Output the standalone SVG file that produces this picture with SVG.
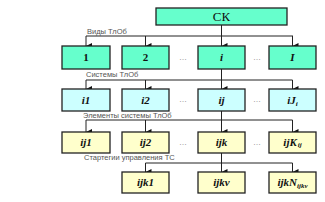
<svg xmlns="http://www.w3.org/2000/svg" width="325" height="202" viewBox="0 0 325 202">
<defs>
<marker id="ah" viewBox="0 0 6 6" refX="3" refY="6" markerWidth="6" markerHeight="6" markerUnits="userSpaceOnUse" orient="auto-start-reverse">
<path d="M0,0 L6,0 L3,6 Z" fill="#111"/>
</marker>
<style>
.b{stroke:#222;stroke-width:1.3}
.g{fill:#66ffcc}
.c{fill:#ccffff}
.y{fill:#ffffcc}
.t{font-family:"Liberation Serif",serif;font-size:11px;font-weight:bold;font-style:italic;fill:#111;text-anchor:middle}
.n{font-style:normal}
.s{font-size:7px}
.lab{font-family:"Liberation Sans",Arial,sans-serif;font-size:7.5px;fill:#555}
.dots{font-family:"Liberation Sans",sans-serif;font-size:8px;fill:#777;text-anchor:middle}
.ln{stroke:#222;stroke-width:1;fill:none}
.la{stroke:#222;stroke-width:1;fill:none;marker-end:url(#ah)}
</style>
</defs>
<rect width="325" height="202" fill="#fff"/>
<g id="connectors">
<line class="la" x1="221.5" y1="25" x2="221.5" y2="46"/>
<polyline class="ln" points="86,36 293,36"/>
<line class="la" x1="86" y1="36" x2="86" y2="46"/>
<line class="la" x1="145.5" y1="36" x2="145.5" y2="46"/>
<line class="la" x1="292.5" y1="36" x2="292.5" y2="46"/>
<line class="la" x1="221.5" y1="69" x2="221.5" y2="89"/>
<polyline class="ln" points="86,80 292.5,80"/>
<line class="la" x1="86" y1="80" x2="86" y2="89"/>
<line class="la" x1="145.5" y1="80" x2="145.5" y2="89"/>
<line class="la" x1="292.5" y1="80" x2="292.5" y2="89"/>
<line class="la" x1="221.5" y1="111" x2="221.5" y2="132"/>
<polyline class="ln" points="86,120 292.5,120"/>
<line class="la" x1="86" y1="120" x2="86" y2="132"/>
<line class="la" x1="145.5" y1="120" x2="145.5" y2="132"/>
<line class="la" x1="292.5" y1="120" x2="292.5" y2="132"/>
<line class="la" x1="221.5" y1="153" x2="221.5" y2="172"/>
<polyline class="ln" points="145.5,163 292.5,163"/>
<line class="la" x1="145.5" y1="163" x2="145.5" y2="172"/>
<line class="la" x1="292.5" y1="163" x2="292.5" y2="172"/>
</g>
<g id="labels">
<text class="lab" x="87" y="34">Виды ТлОб</text>
<text class="lab" x="86" y="77">Системы ТлОб</text>
<text class="lab" x="83" y="118">Элементы системы ТлОб</text>
<text class="lab" x="84" y="160">Стартегии управления ТС</text>
</g>
<g id="dots">
<text class="dots" x="183" y="60">…</text>
<text class="dots" x="257" y="60">…</text>
<text class="dots" x="183" y="102">…</text>
<text class="dots" x="257" y="102">…</text>
<text class="dots" x="183" y="145">…</text>
<text class="dots" x="257" y="145">…</text>
</g>
<g id="CK"><rect class="b g" x="156" y="8" width="131" height="17"/><text x="221.5" y="21" font-family="'Liberation Serif',serif" font-size="13" fill="#111" text-anchor="middle">СК</text></g>
<g id="n1"><rect class="b g" x="62" y="46" width="48" height="23"/><text class="t n" x="86" y="61">1</text></g>
<g id="n2"><rect class="b g" x="122" y="46" width="47" height="23"/><text class="t n" x="145.5" y="61">2</text></g>
<g id="ni"><rect class="b g" x="198" y="46" width="47" height="23"/><text class="t" x="221.5" y="61">i</text></g>
<g id="nI"><rect class="b g" x="269" y="46" width="47" height="23"/><text class="t" x="292.5" y="61">I</text></g>
<g id="i1"><rect class="b c" x="62" y="89" width="48" height="22"/><text class="t" x="86" y="104">i1</text></g>
<g id="i2"><rect class="b c" x="122" y="89" width="47" height="22"/><text class="t" x="145.5" y="104">i2</text></g>
<g id="ij"><rect class="b c" x="198" y="89" width="47" height="22"/><text class="t" x="221.5" y="104">ij</text></g>
<g id="iJi"><rect class="b c" x="269" y="89" width="47" height="22"/><text class="t" x="292.5" y="104">iJ<tspan class="s" dy="2">i</tspan></text></g>
<g id="ij1"><rect class="b y" x="62" y="132" width="48" height="21"/><text class="t" x="86" y="146">ij1</text></g>
<g id="ij2"><rect class="b y" x="122" y="132" width="47" height="21"/><text class="t" x="145.5" y="146">ij2</text></g>
<g id="ijk"><rect class="b y" x="198" y="132" width="47" height="21"/><text class="t" x="221.5" y="146">ijk</text></g>
<g id="ijKij"><rect class="b y" x="269" y="132" width="47" height="21"/><text class="t" x="292.5" y="146">ijK<tspan class="s" dx="1" dy="1">ij</tspan></text></g>
<g id="ijk1"><rect class="b y" x="122" y="172" width="47" height="21"/><text class="t" x="145.5" y="186">ijk1</text></g>
<g id="ijkv"><rect class="b y" x="198" y="172" width="47" height="21"/><text class="t" x="221.5" y="186">ijkv</text></g>
<g id="ijkN"><rect class="b y" x="269" y="172" width="47" height="21"/><text class="t" x="292.5" y="186">ijkN<tspan class="s" dy="2">ijkv</tspan></text></g>
</svg>
